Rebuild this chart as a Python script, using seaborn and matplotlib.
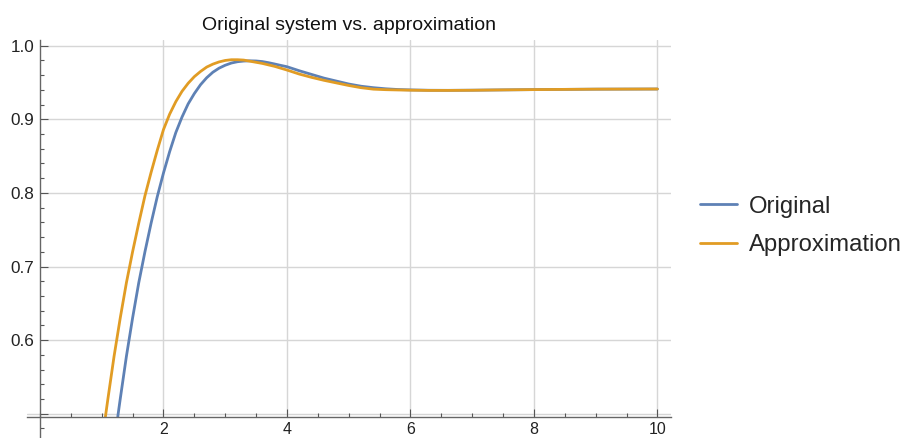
import numpy as np
import pandas as pd
import seaborn as sns
import matplotlib
matplotlib.use("Agg")
import matplotlib.pyplot as plt
from matplotlib.ticker import MultipleLocator, FixedLocator
from matplotlib.lines import Line2D

# ---- data ----
orig_t = [1.26, 1.30, 1.40, 1.50, 1.60, 1.70, 1.80, 1.90, 2.00, 2.10, 2.20, 2.30, 2.40,
          2.50, 2.60, 2.70, 2.80, 2.90, 3.00, 3.10, 3.20, 3.30, 3.40, 3.50, 3.60, 3.70,
          3.80, 3.90, 4.00, 4.20, 4.40, 4.60, 4.80, 5.00, 5.20, 5.40, 5.60, 5.80, 6.00,
          6.30, 6.60, 7.00, 7.50, 8.00, 9.00, 10.0]
orig_y = [0.496, 0.520, 0.578, 0.630, 0.678, 0.720, 0.759, 0.795, 0.827, 0.856, 0.882,
          0.903, 0.921, 0.935, 0.947, 0.9565, 0.964, 0.9695, 0.9735, 0.9765, 0.9783,
          0.9792, 0.9795, 0.9793, 0.9785, 0.9770, 0.9752, 0.9733, 0.9715, 0.966, 0.961,
          0.956, 0.952, 0.948, 0.945, 0.943, 0.9415, 0.9405, 0.9400, 0.9395, 0.9394,
          0.9396, 0.9400, 0.9404, 0.9410, 0.9412]

approx_t = [1.06, 1.10, 1.20, 1.30, 1.40, 1.50, 1.60, 1.70, 1.80, 1.90, 2.00, 2.10, 2.20,
            2.30, 2.40, 2.50, 2.60, 2.70, 2.80, 2.90, 3.00, 3.10, 3.20, 3.30, 3.40, 3.50,
            3.60, 3.70, 3.80, 3.90, 4.00, 4.20, 4.40, 4.60, 4.80, 5.00, 5.20, 5.40, 5.60,
            5.80, 6.00, 6.30, 6.60, 7.00, 7.50, 8.00, 9.00, 10.0]
approx_y = [0.496, 0.520, 0.578, 0.630, 0.678, 0.720, 0.759, 0.796, 0.828, 0.858, 0.886,
            0.907, 0.924, 0.938, 0.949, 0.958, 0.965, 0.971, 0.975, 0.978, 0.980, 0.981,
            0.981, 0.9805, 0.979, 0.9775, 0.976, 0.974, 0.972, 0.9695, 0.967, 0.9615,
            0.957, 0.953, 0.9495, 0.946, 0.943, 0.941, 0.9403, 0.9399, 0.9396, 0.9393,
            0.9393, 0.9395, 0.9400, 0.9404, 0.9410, 0.9412]

series_names = ["Original", "Approximation"]
series_colors = ["#5E81B5", "#E19C24"]
x_major = [2, 4, 6, 8, 10]
y_major = [0.5, 0.6, 0.7, 0.8, 0.9, 1.0]
y_labels = ["", "0.6", "0.7", "0.8", "0.9", "1.0"]
title = "Original system vs. approximation"

df = pd.concat([
    pd.DataFrame({"t": orig_t, "y": orig_y, "series": series_names[0]}),
    pd.DataFrame({"t": approx_t, "y": approx_y, "series": series_names[1]}),
], ignore_index=True)

sns.set_style("white")
plt.rcParams["font.family"] = ["Liberation Sans", "DejaVu Sans"]

fig = plt.figure(figsize=(9.03, 4.38), dpi=100)
ax = fig.add_axes([27 / 903, 0.0, (671 - 27) / 903, (438 - 40) / 438])

XLIM = (-0.21, 10.22)
YLIM = (0.467, 1.0078)
AXIS_Y = 0.4959
ax.set_xlim(*XLIM)
ax.set_ylim(*YLIM)

grid_c = "#d6d6d6"
yfrac = (AXIS_Y - YLIM[0]) / (YLIM[1] - YLIM[0])
xfrac = (0 - XLIM[0]) / (XLIM[1] - XLIM[0])
for xv in x_major:
    ax.axvline(xv, ymin=yfrac, ymax=1, color=grid_c, lw=1.0, zorder=0)
for yv in y_major:
    ax.axhline(yv, xmin=xfrac if yv != 0.5 else 0, xmax=1, color=grid_c, lw=1.0, zorder=0)

sns.lineplot(data=df, x="t", y="y", hue="series", palette=series_colors,
             hue_order=series_names, estimator=None, sort=False, lw=2.0,
             legend=False, ax=ax, zorder=3)

ax.spines["top"].set_visible(False)
ax.spines["right"].set_visible(False)
ax.spines["left"].set_position(("data", 0))
ax.spines["bottom"].set_position(("data", AXIS_Y))
for s in ("left", "bottom"):
    ax.spines[s].set_color("#666666")
    ax.spines[s].set_linewidth(1.0)
    ax.spines[s].set_zorder(4)

ax.xaxis.set_major_locator(FixedLocator(x_major))
ax.xaxis.set_minor_locator(MultipleLocator(0.5))
ax.yaxis.set_major_locator(FixedLocator(y_major))
ax.yaxis.set_minor_locator(MultipleLocator(0.02))
ax.set_yticklabels(y_labels)
ax.set_xticklabels([str(v) for v in x_major])
ax.tick_params(axis="both", which="both", direction="in", color="#555555",
               labelcolor="#222222", labelsize=12.3, width=0.8,
               bottom=True, left=True, top=False, right=False)
ax.tick_params(axis="x", labelsize=11.5)
ax.tick_params(axis="both", which="major", length=5.5)
ax.tick_params(axis="both", which="minor", length=3.0)
ax.tick_params(axis="x", pad=4)
ax.tick_params(axis="y", pad=4)
ax.set_xlabel("")
ax.set_ylabel("")
ax.set_title(title, fontsize=14, pad=7, color="#111111")

handles = [Line2D([], [], color=c, lw=2.0) for c in series_colors]
fig.legend(handles, series_names, loc="center left", bbox_to_anchor=(700 / 903, 0.484),
           frameon=False, fontsize=17.2, handlelength=1.55, handletextpad=0.5,
           labelspacing=0.7, borderpad=0, borderaxespad=0)

fig.savefig("out.png", dpi=100)
